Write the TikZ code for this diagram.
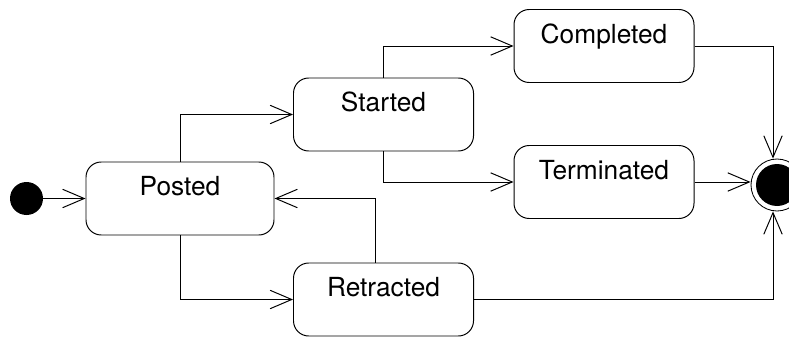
\documentclass[tikz,border=0pt]{standalone}
\usepackage{fontspec}
\setmainfont{TeX Gyre Heros}
\usetikzlibrary{arrows.meta}
\tikzset{
  state/.style={draw, line width=0.7pt, rounded corners=0.38cm, inner sep=0pt,
    minimum width=4.5cm, text height=0.84cm, text depth=0.985cm,
    font=\fontsize{18.7}{22}\selectfont},
  arr/.style={line width=0.7pt, -{Straight Barb[length=5.4mm, width=4.6mm]}}
}
\begin{document}
\begin{tikzpicture}
\useasboundingbox (0,0) rectangle (19.725,8.425);
\node[circle, fill=black, minimum size=0.825cm, inner sep=0pt] (init) at (0.6625,3.4625) {};
\node[state, minimum width=4.7cm] (posted) at (4.5,3.4625) {Posted};
\node[state] (started) at (9.5875,5.5625) {Started};
\node[state] (retracted) at (9.5875,0.9375) {Retracted};
\node[state] (completed) at (15.1,7.275) {Completed};
\node[state] (terminated) at (15.1,3.875) {Terminated};
\node[circle, draw, line width=0.6pt, minimum size=1.3cm, inner sep=0pt] (final) at (19.425,3.8) {};
\fill (final) circle (0.525);
\draw[arr] (init) -- (posted);
\draw[arr] (posted.north) |- (started);
\draw[arr] (posted.south) |- (retracted);
\draw[arr] ([xshift=-0.2cm]retracted.north) |- (posted.east);
\draw[arr] (started.north) |- (completed);
\draw[arr] (started.south) |- (terminated);
\draw[arr] (completed.east) -| ([xshift=-0.1cm]final.north);
\draw[arr] (terminated) -- (terminated -| final.west);
\draw[arr] (retracted.east) -| ([xshift=-0.1cm]final.south);
\end{tikzpicture}
\end{document}
